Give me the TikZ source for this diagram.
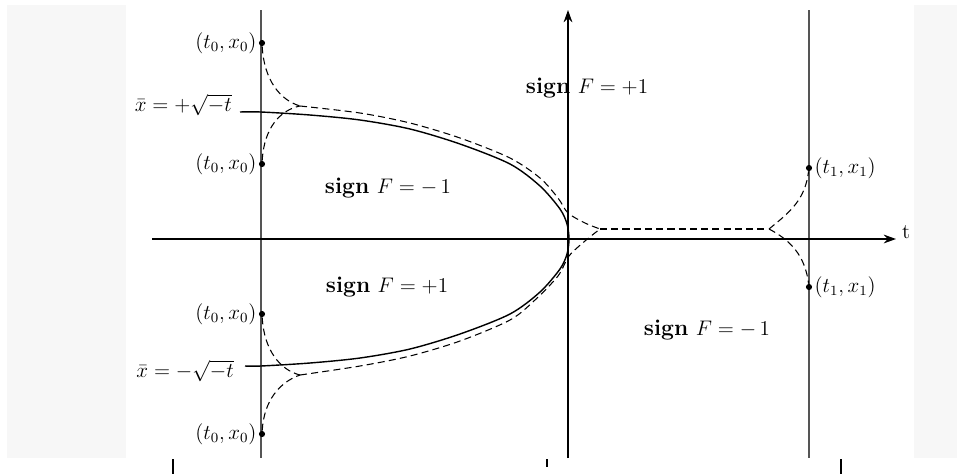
\documentclass[tikz,border=0pt]{standalone}
\usepackage{amsmath,amssymb,xcolor,tikz}
\usetikzlibrary{arrows.meta,positioning,calc}
\definecolor{wallc}{HTML}{555555}
\definecolor{panel}{HTML}{F7F7F7}
\tikzset{
  wall/.style={wallc, line width=1.4pt},
  axarr/.style={-{Stealth[length=7pt,width=5pt]}, line width=0.8pt},
  sol/.style={black, line width=0.8pt},
  traj/.style={black, line width=0.6pt, dash pattern=on 4pt off 2.4pt},
  pt/.style={circle, fill=black, inner sep=0pt, minimum size=3.5pt},
  ptlab/.style={font=\large, inner sep=1pt},
  sgn/.style={font=\fontsize{13}{15}\selectfont},
  tick/.style={black, line width=0.8pt},
}
\newcommand{\sgnF}[1]{\textbf{sign} $F=#1$}

\begin{document}
\begin{tikzpicture}[x=0.02cm, y=-0.02cm]
  \useasboundingbox (0,0) rectangle (957,474);
  \fill[panel] (7,5) rectangle (126,458);
  \fill[panel] (914,5) rectangle (957,458);
  % walls t0, t1 and the axes
  \draw[wall] (261,10) -- (261,458);
  \draw[wall] (809,10) -- (809,458);
  \coordinate (tl) at (152,239);
  \coordinate (tr) at (896,239);
  \coordinate (fb) at (568,458);
  \coordinate (ft) at (568,10);
  \draw[axarr] (tl) -- (tr);
  \draw[axarr] (fb) -- (ft);
  \node[font=\large, anchor=west, yshift=4pt] (tlab) at (tr) {t};
  \draw[tick] (173,459) -- (173,474);
  \draw[tick] (547,459) -- (547,467);
  \draw[tick] (841,459) -- (841,474);
  % regions
  \node[sgn] (sgnA) at (587,88) {\sgnF{+1}};
  \node[sgn] (sgnB) at (388,188) {\sgnF{-\,1}};
  \node[sgn] (sgnC) at (387,287) {\sgnF{+1}};
  \node[sgn] (sgnD) at (707,330) {\sgnF{-\,1}};
  % parabola x = +-sqrt(-t)
  \node[font=\large, anchor=east] (xup) at (238,105) {$\bar{x}=+\sqrt{-t}$};
  \node[font=\large, anchor=east] (xlo) at (240,371) {$\bar{x}=-\sqrt{-t}$};
  \coordinate (xu) at (240,112);
  \coordinate (xl) at (245,366);
  \coordinate (vx) at (569,239);
  \draw[sol] plot[smooth, tension=0.5] coordinates {(xu) (261,112) (310,115)
    (360,120) (410,129) (460,144) (510,164) (540,186) (560,209) (567,224) (vx)
    (567,254) (560,269) (540,292) (510,314) (460,334) (410,349) (360,358)
    (310,363) (261,366) (xl)};
  % initial and end points
  \node[pt] (a1) at (262,43) {};
  \node[pt] (a2) at (262,164) {};
  \node[pt] (a3) at (262,314) {};
  \node[pt] (a4) at (262,434) {};
  \node[pt] (b1) at (809,168) {};
  \node[pt] (b2) at (809,287) {};
  \foreach \n in {a1,a2,a3,a4}
    \node[ptlab, left=0pt of \n] (\n lab) {$(t_0,x_0)$};
  \foreach \n in {b1,b2}
    \node[ptlab, right=0pt of \n] (\n lab) {$(t_1,x_1)$};
  % trajectories
  \coordinate (cu) at (300,106);
  \coordinate (cl) at (300,375);
  \coordinate (cm) at (600,229);
  \coordinate (cr) at (769,229);
  \draw[traj] (a1) .. controls (264,80) and (280,100) .. (cu);
  \draw[traj] (a2) .. controls (264,128) and (280,110) .. (cu);
  \draw[traj] (a3) .. controls (264,350) and (280,370) .. (cl);
  \draw[traj] (a4) .. controls (264,400) and (280,382) .. (cl);
  \draw[traj] plot[smooth, tension=0.5] coordinates {(cu) (360,113) (410,123)
    (460,138) (510,158) (540,178) (558,198) (568,213) (585,223) (cm)};
  \draw[traj] plot[smooth, tension=0.5] coordinates {(cl) (360,366) (410,356)
    (460,341) (510,320) (535,300) (558,276) (569,256) (585,241) (cm)};
  \draw[traj] (cm) -- (cr);
  \draw[traj] (cr) .. controls (790,212) and (805,200) .. (b1);
  \draw[traj] (cr) .. controls (790,240) and (805,255) .. (b2);
\end{tikzpicture}
\end{document}
